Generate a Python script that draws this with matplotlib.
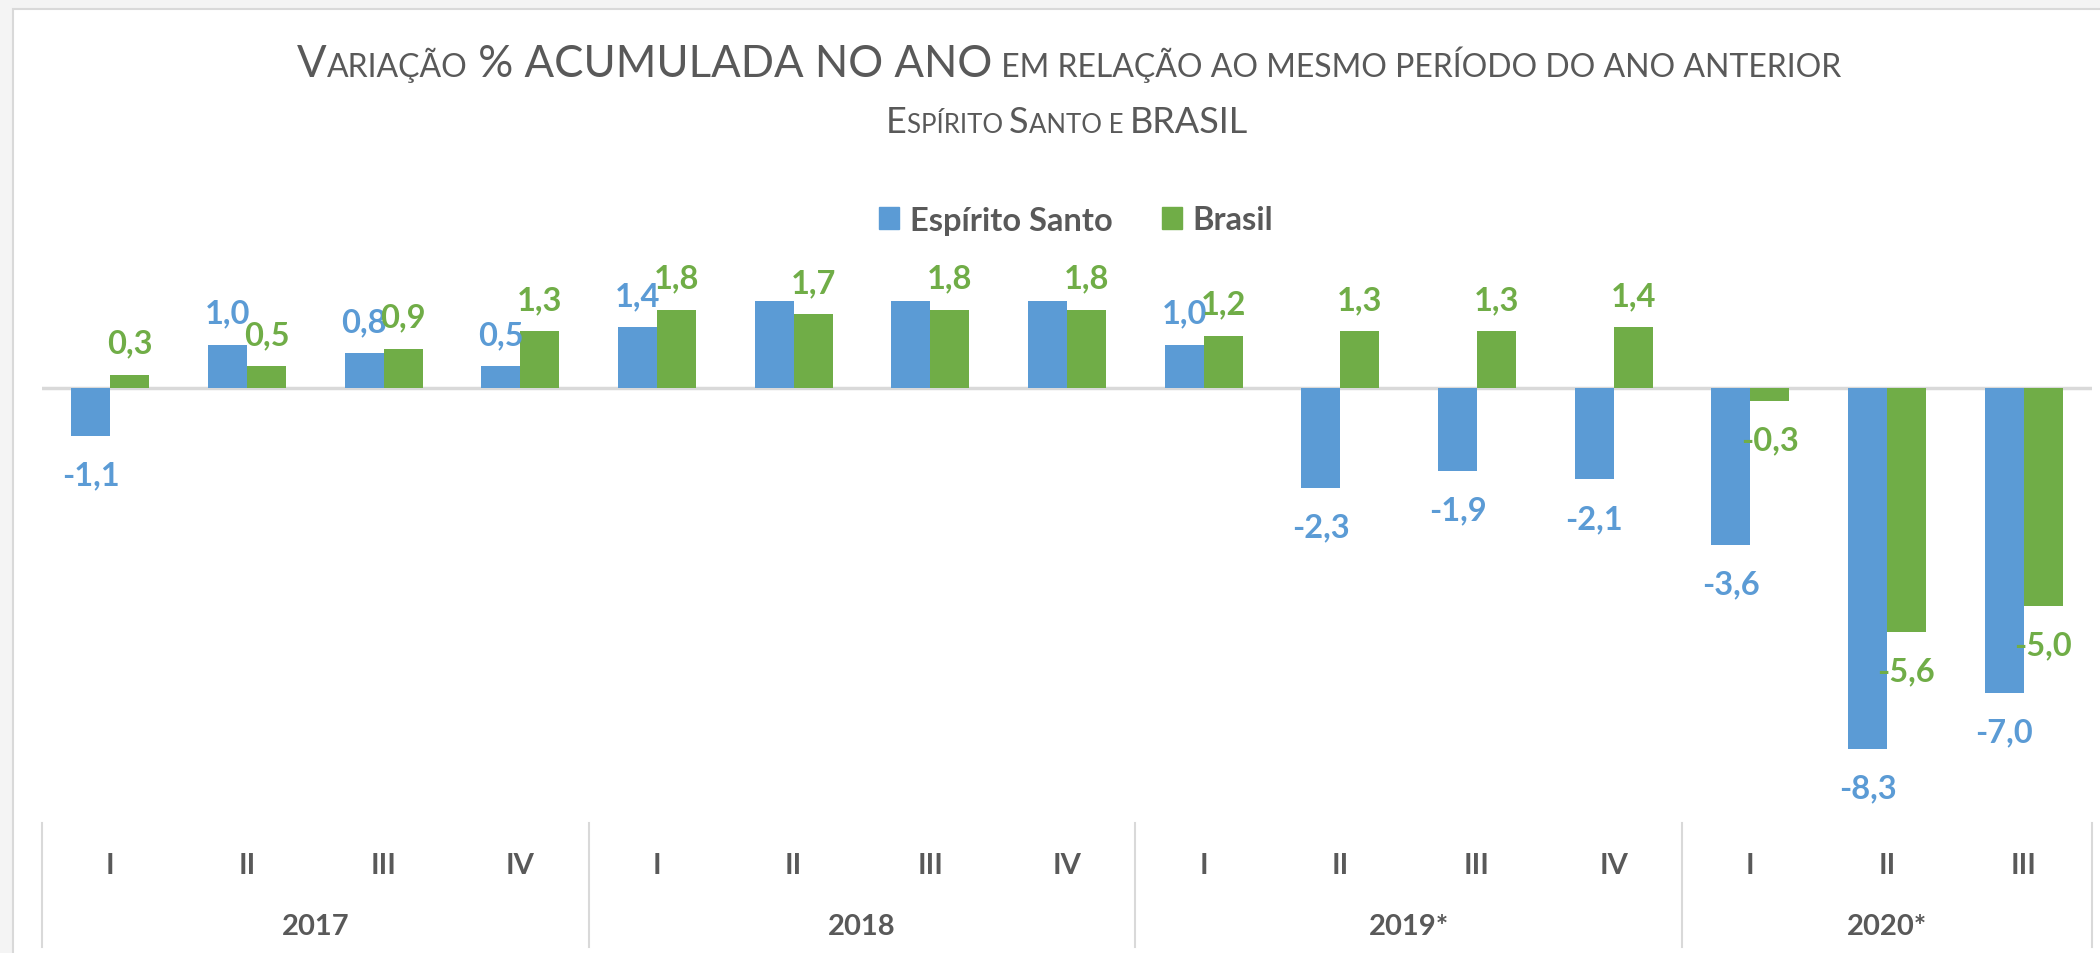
import matplotlib
matplotlib.use("Agg")
import matplotlib.pyplot as plt
from matplotlib.patches import Patch, Rectangle
from matplotlib.transforms import blended_transform_factory

# dados (variação % acumulada no ano)
quarters = ["I", "II", "III", "IV", "I", "II", "III", "IV", "I", "II", "III", "IV", "I", "II", "III"]
years = ["2017", "2018", "2019*", "2020*"]
quarters_per_year = [4, 4, 4, 3]
es_values = [-1.1, 1.0, 0.8, 0.5, 1.4, 2.0, 2.0, 2.0, 1.0, -2.3, -1.9, -2.1, -3.6, -8.3, -7.0]
br_values = [0.3, 0.5, 0.9, 1.3, 1.8, 1.7, 1.8, 1.8, 1.2, 1.3, 1.3, 1.4, -0.3, -5.6, -5.0]
es_hidden_labels = [5, 6, 7]  # rótulos que não aparecem no gráfico original

BLUE = "#5B9BD5"
GREEN = "#70AD47"
GREY = "#595959"
LINE = "#D9D9D9"
FONT = "Lato"

W, H = 2100, 954
fig = plt.figure(figsize=(W / 100, H / 100), dpi=100)
fig.patch.set_facecolor("#F4F4F4")
fig.patches.append(Rectangle((13 / W, -0.01), 1.0, 1 - 10 / H + 0.01, transform=fig.transFigure,
                             facecolor="white", edgecolor=LINE, linewidth=1.5, zorder=-5))

ax = fig.add_axes([42 / W, 1 - 824 / H, (2092 - 42) / W, (824 - 215) / H])
ax.set_facecolor("none")
ax.set_zorder(2)

n = len(quarters)
x = list(range(n))
bw = 0.285
ax.bar([i - bw / 2 for i in x], es_values, width=bw, color=BLUE, zorder=2)
ax.bar([i + bw / 2 for i in x], br_values, width=bw, color=GREEN, zorder=2)
ax.axhline(0, color=LINE, lw=2.5, zorder=1)

ax.set_xlim(-0.5, n - 0.5)
ax.set_ylim(-10, 4)
ax.set_xticks([])
ax.set_yticks([])
for s in ax.spines.values():
    s.set_visible(False)


def fmt(v):
    return f"{v:.1f}".replace(".", ",")


def label(xpos, v, color):
    off = 16 if v >= 0 else -35
    ax.annotate(fmt(v), (xpos, v), xytext=(0, off), textcoords="offset points",
                ha="center", va="baseline", fontsize=23.5, fontweight="bold",
                color=color, family=FONT)


for i in x:
    if i not in es_hidden_labels:
        label(i - bw / 2, es_values[i], BLUE)
    label(i + bw / 2, br_values[i], GREEN)

# eixo de categorias em dois níveis
tr = blended_transform_factory(ax.transData, ax.transAxes)
for i, q in enumerate(quarters):
    ax.text(i, -0.069, q, transform=tr, ha="center", va="center", fontsize=21,
            fontweight="bold", color=GREY, family=FONT, clip_on=False)
start = 0
bounds = [-0.5]
for yr, k in zip(years, quarters_per_year):
    ax.text(start + (k - 1) / 2, -0.169, yr, transform=tr, ha="center", va="center",
            fontsize=21, fontweight="bold", color=GREY, family=FONT, clip_on=False)
    start += k
    bounds.append(start - 0.5)
for b in bounds:
    ax.plot([b, b], [0, -0.204], transform=tr, color=LINE, lw=1.5, clip_on=False)

# legenda
handles = [Patch(color=BLUE, label="Espírito Santo"), Patch(color=GREEN, label="Brasil")]
fig.legend(handles=handles, loc="center", bbox_to_anchor=(1076 / W, 1 - 221 / H), ncol=2,
           frameon=False, prop=dict(family=FONT, weight="bold", size=23.5), labelcolor=GREY,
           handlelength=0.62, handleheight=0.62, handletextpad=0.32, columnspacing=1.5)

# título em versalete (small caps), montado peça por peça
renderer = fig.canvas.get_renderer()


def text_width(s, size):
    t = fig.text(0, 0, "x" + s + "x", fontsize=size, family=FONT)
    t2 = fig.text(0, 0, "xx", fontsize=size, family=FONT)
    w = t.get_window_extent(renderer).width - t2.get_window_extent(renderer).width
    t.remove()
    t2.remove()
    return w


def small_caps(pieces, xc, y_base, big, small):
    widths = [text_width(s, big if b else small) for s, b in pieces]
    xpos = xc - sum(widths) / 2
    for (s, b), w in zip(pieces, widths):
        fig.text(xpos / W, 1 - y_base / H, s, fontsize=big if b else small, family=FONT,
                 color=GREY, ha="left", va="baseline")
        xpos += w


title_pieces = [("V", True), ("ARIAÇÃO", False), (" % ACUMULADA NO ANO", True),
                (" EM RELAÇÃO AO MESMO PERÍODO DO ANO ANTERIOR", False)]
subtitle_pieces = [("E", True), ("SPÍRITO ", False), ("S", True), ("ANTO E ", False),
                   ("BRASIL", True)]
small_caps(title_pieces, 1069, 77, 31.5, 23)
small_caps(subtitle_pieces, 1067, 133, 26, 18.5)

fig.savefig("out.png", dpi=100, facecolor=fig.get_facecolor())
